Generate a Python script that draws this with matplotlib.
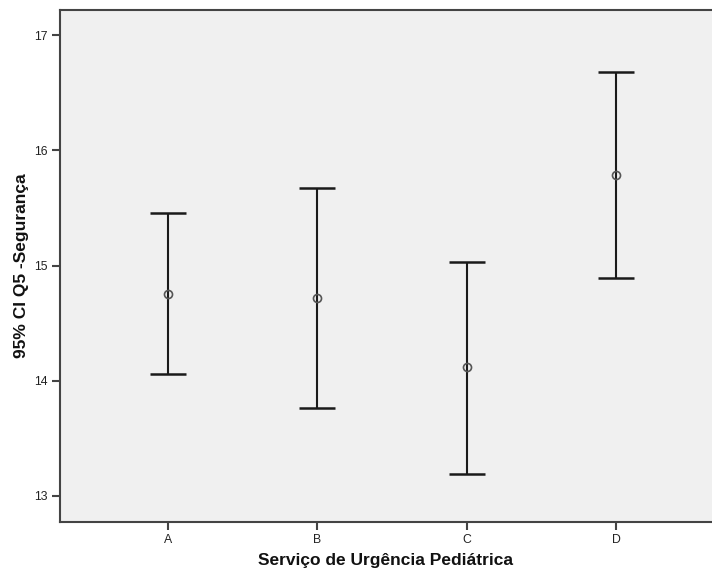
import matplotlib
matplotlib.use('Agg')
import matplotlib.pyplot as plt
import numpy as np

# 95% confidence intervals for Q5 (Segurança) by emergency service
services = ['A', 'B', 'C', 'D']
means = [14.753, 14.718, 14.116, 15.782]
lower = [14.056, 13.766, 13.191, 14.889]
upper = [15.453, 15.670, 15.033, 16.682]

plt.rcParams['font.family'] = ['Liberation Sans', 'DejaVu Sans']

fig = plt.figure(figsize=(7.12, 5.76), dpi=100)
ax = fig.add_axes([60 / 712, 54.3 / 576, 652 / 712, 511.7 / 576])
ax.set_facecolor('#f0f0f0')

x = np.arange(1, len(services) + 1)
m = np.array(means)
err = np.vstack([m - np.array(lower), np.array(upper) - m])
ax.errorbar(x, m, yerr=err, fmt='none', ecolor='#1a1a1a', elinewidth=1.5,
            capsize=13.3, capthick=1.8)
ax.plot(x, m, 'o', markersize=5.8, markerfacecolor='none',
        markeredgecolor='#555555', markeredgewidth=1.2)

ax.set_xlim(0.28, 4.64)
ax.set_ylim(12.777, 17.217)
ax.set_xticks(x)
ax.set_xticklabels(services)
ax.set_yticks([13, 14, 15, 16, 17])

for side in ['left', 'bottom', 'top']:
    ax.spines[side].set_color('#444444')
    ax.spines[side].set_linewidth(1.5)
ax.spines['right'].set_visible(False)
ax.tick_params(axis='both', direction='out', length=6, width=1.5,
               color='#444444', labelsize=8.8, labelcolor='#222222', pad=3)

ax.set_xlabel('Serviço de Urgência Pediátrica', fontsize=12.5,
              fontweight='bold', color='#111111')
ax.set_ylabel('95% CI Q5 -Segurança', fontsize=12.5, fontweight='bold',
              color='#111111')
ax.xaxis.set_label_coords(0.5, -0.076)
ax.xaxis.label.set_verticalalignment('center')
ax.yaxis.set_label_coords(-0.0598, 0.5)
ax.yaxis.label.set_verticalalignment('center')

fig.savefig('out.png', dpi=100, facecolor='white')
